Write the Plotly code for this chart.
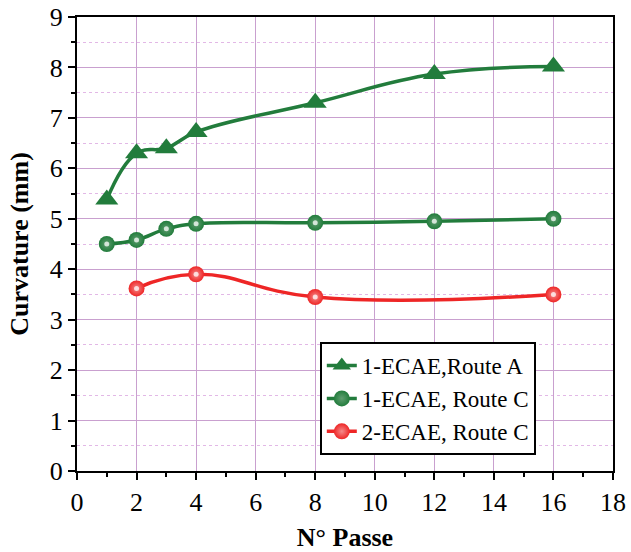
import plotly.graph_objects as go

passes_a = [1, 2, 3, 4, 8, 12, 16]
curv_a = [5.38, 6.3, 6.4, 6.72, 7.3, 7.87, 8.02]

passes_c1 = [1, 2, 3, 4, 8, 12, 16]
curv_c1 = [4.5, 4.58, 4.8, 4.9, 4.92, 4.95, 5.0]

passes_c2 = [2, 4, 8, 16]
curv_c2 = [3.62, 3.9, 3.45, 3.5]

names = ["1-ECAE,Route A", "1-ECAE, Route C", "2-ECAE, Route C"]

green = "#227c3c"
red = "#ee2626"
grid_major = "#c9a0cf"
grid_minor = "#e2b8e6"
font_family = "Liberation Serif"

fig = go.Figure()
fig.add_trace(go.Scatter(
    x=passes_a, y=curv_a, name=names[0], mode="lines+markers",
    line=dict(color=green, width=3.5, shape="spline", smoothing=1.2),
    marker=dict(symbol="triangle-up", size=20, color=green),
))
fig.add_trace(go.Scatter(
    x=passes_c1, y=curv_c1, name=names[1], mode="lines+markers",
    line=dict(color=green, width=3.5, shape="spline", smoothing=1.2),
    marker=dict(symbol="circle", size=16, color=green,
                gradient=dict(type="radial", color="#5f9e70")),
))
fig.add_trace(go.Scatter(
    x=passes_c2, y=curv_c2, name=names[2], mode="lines+markers",
    line=dict(color=red, width=3.5, shape="spline", smoothing=1.3),
    marker=dict(symbol="circle", size=16, color=red,
                gradient=dict(type="radial", color="#f58a8a")),
))
# sphere highlights
for xs, ys in [(passes_c1, curv_c1), (passes_c2, curv_c2)]:
    fig.add_trace(go.Scatter(
        x=xs, y=ys, mode="markers", showlegend=False, hoverinfo="skip",
        marker=dict(symbol="circle", size=5, color="rgba(255,255,255,0.75)"),
    ))

fig.update_layout(
    width=631, height=552,
    margin=dict(l=77, r=18, t=17, b=81, autoexpand=False),
    paper_bgcolor="white", plot_bgcolor="white",
    font=dict(family=font_family, size=24, color="black"),
    showlegend=True,
    legend=dict(
        x=0.453, y=0.284, xanchor="left", yanchor="top",
        bgcolor="white", bordercolor="black", borderwidth=2,
        font=dict(family=font_family, size=23),
        tracegroupgap=0,
    ),
)

fig.update_xaxes(
    range=[0, 18], tickmode="linear", tick0=0, dtick=2,
    showline=True, linecolor="black", linewidth=2, mirror=True,
    ticks="outside", ticklen=7, tickwidth=2, tickcolor="black",
    minor=dict(ticks="outside", ticklen=4, tickwidth=1.5, tickcolor="black", dtick=1, showgrid=False),
    showgrid=True, gridcolor=grid_major, gridwidth=1,
    zeroline=False, automargin=False,
    title=dict(text="<b>N° Passe</b>", font=dict(family=font_family, size=26), standoff=15),
    tickfont=dict(family=font_family, size=26),
)
fig.update_yaxes(
    range=[0, 9], tickmode="linear", tick0=0, dtick=1,
    showline=True, linecolor="black", linewidth=2, mirror=True,
    ticks="outside", ticklen=7, tickwidth=2, tickcolor="black",
    minor=dict(ticks="outside", ticklen=4, tickwidth=1.5, tickcolor="black", dtick=0.5,
               showgrid=True, gridcolor=grid_minor, griddash="dot", gridwidth=1),
    showgrid=True, gridcolor=grid_major, gridwidth=1,
    zeroline=False, automargin=False,
    title=dict(text="<b>Curvature (mm)</b>", font=dict(family=font_family, size=26), standoff=14),
    tickfont=dict(family=font_family, size=26),
)

fig.write_html("out.html", config={"displayModeBar": False},
               post_script="document.body.style.margin='0';")
